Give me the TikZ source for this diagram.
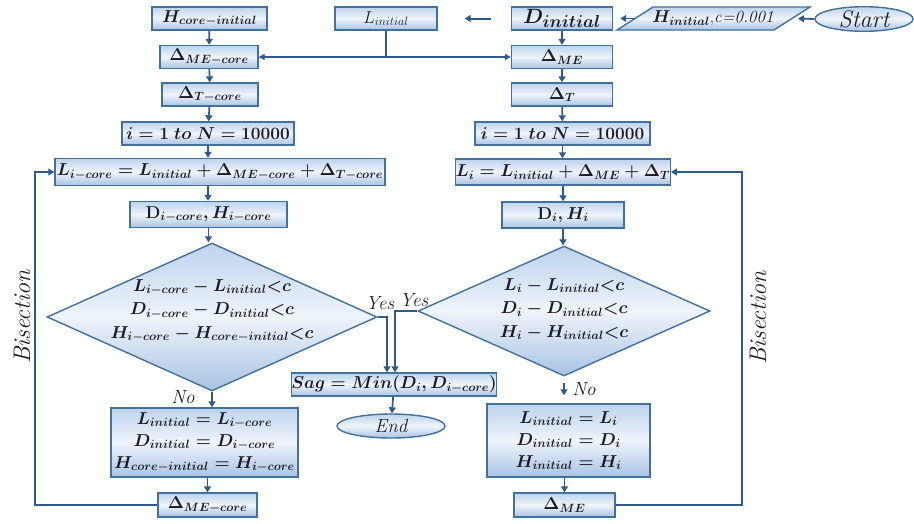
\documentclass[tikz,border=0pt]{standalone}
\usepackage{amsmath}
\usetikzlibrary{shapes.geometric,arrows.meta}
\DeclareMathSizes{17}{17}{13}{10}
\DeclareMathSizes{21}{21}{16}{12}
\definecolor{bord}{HTML}{41719C}
\definecolor{arr}{HTML}{2E5B8A}
\definecolor{fillA}{HTML}{BDD3EC}
\definecolor{fillB}{HTML}{EEF4FB}
\definecolor{fillC}{HTML}{A9C3E3}
\definecolor{txt}{HTML}{1C1C28}
\tikzset{
  shadethree/.style={top color=fillA, bottom color=fillC, middle color=fillB},
  blk/.style={draw=bord, line width=1.4pt, shadethree, inner sep=0pt, align=center,
    text=txt, font=\fontsize{17}{22}\selectfont\boldmath},
  dia/.style={draw=bord, line width=1.4pt, shadethree, diamond, inner sep=0pt},
  diatext/.style={text=txt, align=center, inner sep=0pt, font=\fontsize{17}{23.5}\selectfont\boldmath},
  term/.style={blk, ellipse},
  arrw/.style={draw=arr, line width=1.7pt, -{Triangle[length=6pt,width=7pt]}},
  arrtwo/.style={draw=arr, line width=1.2pt, {Triangle[length=6pt,width=6pt]}-{Triangle[length=6pt,width=6pt]}},
  ln/.style={draw=arr, line width=1.3pt},
  lbl/.style={text=txt, font=\fontsize{19}{21}\selectfont\itshape, inner sep=0pt},
  bis/.style={text=txt, font=\fontsize{24}{26}\selectfont\itshape, rotate=90, inner sep=0pt},
}
\begin{document}
\begin{tikzpicture}[x=1pt,y=-1pt]
\useasboundingbox (0,0) rectangle (914,523);

% ---- top row
\node[blk, minimum width=115pt, minimum height=23pt] (hci) at (209.5,18.5) {$H_{core-initial}$};
\node[blk, minimum width=102pt, minimum height=23pt, font=\fontsize{17}{22}\selectfont] (lin) at (386,18.5) {$L_{initial}$};
\node[blk, minimum width=101pt, minimum height=23pt, font=\fontsize{21}{24}\selectfont\boldmath] (din) at (562,18.5) {$D_{initial}$};
\path[shadethree, draw=bord, line width=1.4pt] (617,30) coordinate (pbl) -- (653,7) -- (810,7) coordinate (ptr) -- (774,30) -- cycle;
\coordinate (pw) at (635,18.5);
\coordinate (pe) at (792,18.5);
\node[text=txt, font=\fontsize{17}{20}\selectfont\boldmath, inner sep=0pt] (par) at (713,18.5) {$H_{initial}$,\textit{c=0.001}};
\node[term, minimum width=98pt, minimum height=23pt, font=\fontsize{24}{26}\selectfont\itshape] (start) at (864,19) {Start};

\draw[arrw, line width=2pt, shorten <=20pt, shorten >=27pt] (din.west) -- (lin.east);
\draw[arrw, shorten >=7pt] (pw) -- (din.east);
\draw[arrw, shorten >=6pt] (start.west) -- (pe);

% ---- left column
\node[blk, minimum width=98pt, minimum height=23pt] (dmec) at (209,57) {$\Delta_{ME-core}$};
\node[blk, minimum width=96pt, minimum height=23pt] (dtc) at (210,94.5) {$\Delta_{T-core}$};
\node[blk, minimum width=172pt, minimum height=23pt] (il) at (208,133.5) {$i=1\ to\ N=10000$};
\node[blk, minimum width=330pt, minimum height=27pt] (lil) at (220,172) {$L_{i-core}=L_{initial}+\Delta_{ME-core}+\Delta_{T-core}$};
\node[blk, minimum width=157pt, minimum height=26pt] (dhl) at (208.5,214.5) {$\mathrm{D}_{i-core},H_{i-core}$};
\node[dia, minimum width=330pt, minimum height=148pt] (dial) at (212,317) {};
\node[diatext] (dialt) at (212,311) {$L_{i-core}-L_{initial}{<}c$\\$D_{i-core}-D_{initial}{<}c$\\$H_{i-core}-H_{core-initial}{<}c$};
\node[blk, minimum width=187pt, minimum height=69pt] (updl) at (204.5,442.5) {$L_{initial}=L_{i-core}$\\$D_{initial}=D_{i-core}$\\$H_{core-initial}=H_{i-core}$};
\node[blk, minimum width=99pt, minimum height=24pt] (dmel) at (207.5,505) {$\Delta_{ME-core}$};

% ---- right column
\node[blk, minimum width=101pt, minimum height=23pt] (dme) at (562,57) {$\Delta_{ME}$};
\node[blk, minimum width=101pt, minimum height=23pt] (dt) at (562,94.5) {$\Delta_{T}$};
\node[blk, minimum width=175pt, minimum height=23pt] (ir) at (562.5,133.5) {$i=1\ to\ N=10000$};
\node[blk, minimum width=210pt, minimum height=26pt] (lir) at (563,172) {$L_{i}=L_{initial}+\Delta_{ME}+\Delta_{T}$};
\node[blk, minimum width=122pt, minimum height=26pt] (dhr) at (563,215) {$\mathrm{D}_{i},H_{i}$};
\node[dia, minimum width=292pt, minimum height=130pt] (diar) at (564,311) {};
\node[diatext] (diart) at (564,309) {$L_{i}-L_{initial}{<}c$\\$D_{i}-D_{initial}{<}c$\\$H_{i}-H_{initial}{<}c$};
\node[blk, minimum width=163pt, minimum height=73pt] (updr) at (568.5,440.5) {$L_{initial}=L_{i}$\\$D_{initial}=D_{i}$\\$H_{initial}=H_{i}$};
\node[blk, minimum width=101pt, minimum height=24pt] (dmer) at (564.5,505) {$\Delta_{ME}$};

% ---- middle
\node[blk, minimum width=198pt, minimum height=23pt] (sag) at (394,384.5) {$Sag=Min(D_{i},D_{i-core})$};
\node[term, minimum width=108pt, minimum height=24pt, font=\fontsize{19}{21}\selectfont\itshape] (endn) at (391,426) {End};

% ---- connectors left
\draw[arrw] (hci) -- (dmec);
\draw[arrw] (dmec) -- (dtc);
\draw[arrw] (dtc) -- (il);
\draw[arrw] (il.south) -- (il.south |- lil.north);
\draw[arrw] (il.south |- lil.south) -- (il.south |- dhl.north);
\draw[arrw] (dhl.south) -- (dhl.south |- dial.north);
\draw[arrw] (dial.south) -- (dial.south |- updl.north);
\draw[arrw] (updl.south -| dmel.north) -- (dmel.north);
\coordinate (lpl) at (35,505);
\draw[arrw] (dmel.west) -- (lpl) |- (lil.west);

% ---- connectors right
\draw[arrw] (din) -- (dme);
\draw[arrw] (dme) -- (dt);
\draw[arrw] (dt) -- (ir);
\draw[arrw] (ir.south) -- (ir.south |- lir.north);
\draw[arrw] (lir.south) -- (lir.south |- dhr.north);
\draw[arrw] (dhr.south) -- (dhr.south |- diar.north);
\draw[arrw, shorten <=6pt, shorten >=8pt] (diar.south) -- (diar.south |- updr.north);
\draw[arrw] (updr.south -| dmer.north) -- (dmer.north);
\coordinate (lpr) at (742,505);
\draw[arrw] (dmer.east) -- (lpr) |- (lir.east);

% ---- middle connectors
\draw[ln] (lin.south) -- (lin.south |- dmec.east);
\draw[arrtwo] (dmec.east) -- (dme.west);
\coordinate (yl) at (387,317);
\coordinate (yr) at (395,311);
\draw[arrw] (dial.east) -- (yl) -- (yl |- sag.north);
\draw[arrw] (diar.west) -- (yr) -- (yr |- sag.north);
\draw[arrw] (sag) -- (endn);

% ---- labels
\node[lbl] (yesl) at (380,303) {Yes};
\node[lbl] (yesr) at (414,300) {Yes};
\node[lbl] (nol) at (183,397) {No};
\node[lbl] (nor) at (584,389) {No};
\node[bis] (bisl) at (22,317) {Bisection};
\node[bis] (bisr) at (758,318) {Bisection};
\end{tikzpicture}
\end{document}
